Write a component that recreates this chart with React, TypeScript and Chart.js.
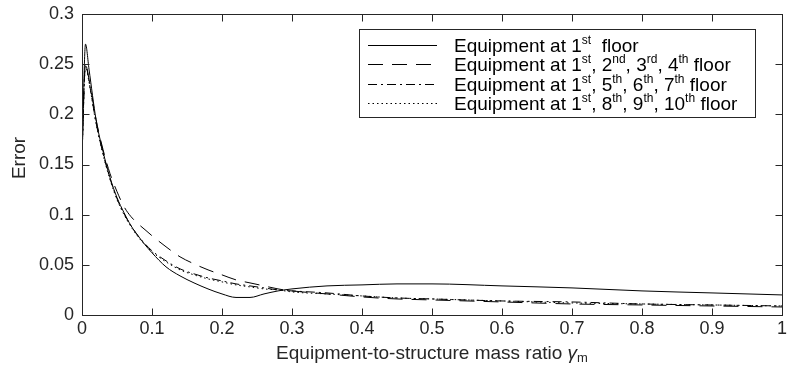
import React, { useEffect, useRef } from 'react';
import { Chart, registerables } from 'chart.js';

Chart.register(...registerables);

const massRatio = [0, 0.005, 0.01, 0.02, 0.03, 0.04, 0.05, 0.06, 0.07, 0.08, 0.09, 0.1, 0.12, 0.14, 0.16, 0.18, 0.2, 0.22, 0.24, 0.26, 0.28, 0.3, 0.35, 0.4, 0.45, 0.5, 0.6, 0.7, 0.8, 0.9, 1.0];
const errFloor1 = [0.155, 0.27, 0.245, 0.195, 0.163, 0.137, 0.117, 0.102, 0.089, 0.079, 0.070, 0.062, 0.048, 0.039, 0.032, 0.026, 0.021, 0.0175, 0.0175, 0.021, 0.024, 0.026, 0.029, 0.030, 0.031, 0.031, 0.029, 0.027, 0.024, 0.022, 0.020];
const errFloors1to4 = [0.16, 0.25, 0.235, 0.195, 0.165, 0.141, 0.123, 0.108, 0.098, 0.091, 0.085, 0.079, 0.068, 0.058, 0.051, 0.045, 0.040, 0.035, 0.032, 0.029, 0.026, 0.024, 0.021, 0.018, 0.016, 0.015, 0.013, 0.011, 0.010, 0.009, 0.008];
const errFloors1and5to7 = [0.158, 0.25, 0.233, 0.192, 0.161, 0.136, 0.116, 0.101, 0.089, 0.079, 0.071, 0.064, 0.054, 0.046, 0.041, 0.037, 0.034, 0.031, 0.029, 0.027, 0.025, 0.024, 0.022, 0.019, 0.017, 0.016, 0.014, 0.013, 0.011, 0.010, 0.009];
const errFloors1and8to10 = [0.157, 0.248, 0.232, 0.191, 0.160, 0.135, 0.115, 0.100, 0.088, 0.078, 0.070, 0.063, 0.053, 0.045, 0.040, 0.036, 0.033, 0.030, 0.028, 0.026, 0.025, 0.023, 0.021, 0.019, 0.017, 0.016, 0.014, 0.012, 0.011, 0.010, 0.009];

const xTicks = [0, 0.1, 0.2, 0.3, 0.4, 0.5, 0.6, 0.7, 0.8, 0.9, 1];
const yTicks = [0, 0.05, 0.1, 0.15, 0.2, 0.25, 0.3];

type Part = { t: string; sup?: boolean };
const legendLabels: Part[][] = [
  [{ t: 'Equipment at 1' }, { t: 'st', sup: true }, { t: '  floor' }],
  [{ t: 'Equipment at 1' }, { t: 'st', sup: true }, { t: ', 2' }, { t: 'nd', sup: true }, { t: ', 3' }, { t: 'rd', sup: true }, { t: ', 4' }, { t: 'th', sup: true }, { t: ' floor' }],
  [{ t: 'Equipment at 1' }, { t: 'st', sup: true }, { t: ', 5' }, { t: 'th', sup: true }, { t: ', 6' }, { t: 'th', sup: true }, { t: ', 7' }, { t: 'th', sup: true }, { t: ' floor' }],
  [{ t: 'Equipment at 1' }, { t: 'st', sup: true }, { t: ', 8' }, { t: 'th', sup: true }, { t: ', 9' }, { t: 'th', sup: true }, { t: ', 10' }, { t: 'th', sup: true }, { t: ' floor' }],
];
const dashes: number[][] = [[], [15, 9], [9, 4, 2, 4], [1.5, 3]];

const FONT = '"Liberation Sans", Arial, Helvetica, sans-serif';
const AXIS = '#262626';
const TICK_SIZE = 18;
const TEXT_SIZE = 19;

const fmt = (v: number) => String(Number(v.toFixed(2)));

const decorPlugin = {
  id: 'decor',
  afterDraw(chart: any) {
    const ctx: CanvasRenderingContext2D = chart.ctx;
    const a = chart.chartArea;
    const xs = chart.scales.x;
    const ys = chart.scales.y;
    ctx.save();
    ctx.strokeStyle = AXIS;
    ctx.lineWidth = 1;
    ctx.setLineDash([]);
    const L = Math.round(a.left) + 0.5, R = Math.round(a.right) + 0.5;
    const T = Math.round(a.top) + 0.5, B = Math.round(a.bottom) + 0.5;
    ctx.strokeRect(L, T, R - L, B - T);
    const tl = 7;
    ctx.beginPath();
    xTicks.forEach((v) => {
      const px = Math.round(xs.getPixelForValue(v)) + 0.5;
      ctx.moveTo(px, B); ctx.lineTo(px, B - tl);
      ctx.moveTo(px, T); ctx.lineTo(px, T + tl);
    });
    yTicks.forEach((v) => {
      const py = Math.round(ys.getPixelForValue(v)) + 0.5;
      ctx.moveTo(L, py); ctx.lineTo(L + tl, py);
      ctx.moveTo(R, py); ctx.lineTo(R - tl, py);
    });
    ctx.stroke();

    // axis titles
    ctx.fillStyle = AXIS;
    ctx.textBaseline = 'alphabetic';
    const main = 'Equipment-to-structure mass ratio ';
    ctx.font = `${TEXT_SIZE}px ${FONT}`;
    const w1 = ctx.measureText(main).width;
    ctx.font = `italic ${TEXT_SIZE}px ${FONT}`;
    const w2 = ctx.measureText('γ').width;
    ctx.font = `13px ${FONT}`;
    const w3 = ctx.measureText('m').width;
    const cx = (a.left + a.right) / 2;
    const x0 = cx - (w1 + w2 + w3) / 2;
    const by = 359;
    ctx.textAlign = 'left';
    ctx.font = `${TEXT_SIZE}px ${FONT}`;
    ctx.fillText(main, x0, by);
    ctx.font = `italic ${TEXT_SIZE}px ${FONT}`;
    ctx.fillText('γ', x0 + w1, by);
    ctx.font = `13px ${FONT}`;
    ctx.fillText('m', x0 + w1 + w2, by + 3);

    ctx.save();
    ctx.translate(20, 158);
    ctx.rotate(-Math.PI / 2);
    ctx.font = `${TEXT_SIZE}px ${FONT}`;
    ctx.textAlign = 'center';
    ctx.textBaseline = 'middle';
    ctx.fillText('Error', 0, 0);
    ctx.restore();

    // legend
    const lx = 359.5, ly = 29.5, lw = 396, lh = 88;
    ctx.fillStyle = '#fff';
    ctx.fillRect(lx, ly, lw, lh);
    ctx.strokeStyle = AXIS;
    ctx.strokeRect(lx, ly, lw, lh);
    legendLabels.forEach((parts, i) => {
      const cy = Math.round(45 + i * 19.3) + 0.5;
      ctx.strokeStyle = '#000';
      ctx.setLineDash(dashes[i]);
      ctx.beginPath();
      ctx.moveTo(368, cy);
      ctx.lineTo(437, cy);
      ctx.stroke();
      ctx.setLineDash([]);
      ctx.fillStyle = '#000';
      ctx.textAlign = 'left';
      ctx.textBaseline = 'alphabetic';
      let x = 454;
      const base = cy + 6.5;
      parts.forEach((p) => {
        if (p.sup) {
          ctx.font = `12px ${FONT}`;
          ctx.fillText(p.t, x, base - 8);
        } else {
          ctx.font = `${TEXT_SIZE}px ${FONT}`;
          ctx.fillText(p.t, x, base);
        }
        x += ctx.measureText(p.t).width;
      });
    });
    ctx.restore();
  },
};

export default function App() {
  const ref = useRef<HTMLCanvasElement | null>(null);
  useEffect(() => {
    document.body.style.margin = '0';
    const canvas = ref.current;
    if (!canvas) return;
    const mk = (ys: number[]) => massRatio.map((x, i) => ({ x, y: ys[i] }));
    const series = [errFloor1, errFloors1to4, errFloors1and5to7, errFloors1and8to10];
    const chart = new Chart(canvas, {
      type: 'line',
      data: {
        datasets: series.map((s, i) => ({
          label: 'series' + i,
          data: mk(s),
          borderColor: '#000',
          borderWidth: 1,
          borderDash: dashes[i],
          pointRadius: 0,
          fill: false,
          cubicInterpolationMode: 'monotone' as const,
        })),
      },
      options: {
        animation: false,
        responsive: false,
        devicePixelRatio: 1,
        layout: { padding: { left: 0, right: 5, top: 14, bottom: 0 } },
        plugins: { legend: { display: false }, tooltip: { enabled: false }, title: { display: false } },
        scales: {
          x: {
            type: 'linear',
            min: 0,
            max: 1,
            afterBuildTicks: (s: any) => { s.ticks = xTicks.map((v) => ({ value: v })); },
            afterFit: (s: any) => { s.height = 52; s.paddingLeft = 0; s.paddingRight = 0; },
            ticks: { callback: (v: any) => fmt(Number(v)), font: { size: TICK_SIZE, family: FONT }, color: AXIS, padding: 3, maxRotation: 0, autoSkip: false },
            grid: { display: false, drawTicks: false },
            border: { display: false },
          },
          y: {
            type: 'linear',
            min: 0,
            max: 0.3,
            afterBuildTicks: (s: any) => { s.ticks = yTicks.map((v) => ({ value: v })); },
            afterFit: (s: any) => { s.width = 82; s.paddingTop = 0; s.paddingBottom = 0; },
            ticks: { callback: (v: any) => fmt(Number(v)), font: { size: TICK_SIZE, family: FONT }, color: AXIS, padding: 8, autoSkip: false },
            grid: { display: false, drawTicks: false },
            border: { display: false },
          },
        },
      },
      plugins: [decorPlugin],
    });
    return () => chart.destroy();
  }, []);
  return (
    <div style={{ width: 787, height: 367 }}>
      <canvas ref={ref} width={787} height={367} style={{ display: 'block' }} />
    </div>
  );
}
